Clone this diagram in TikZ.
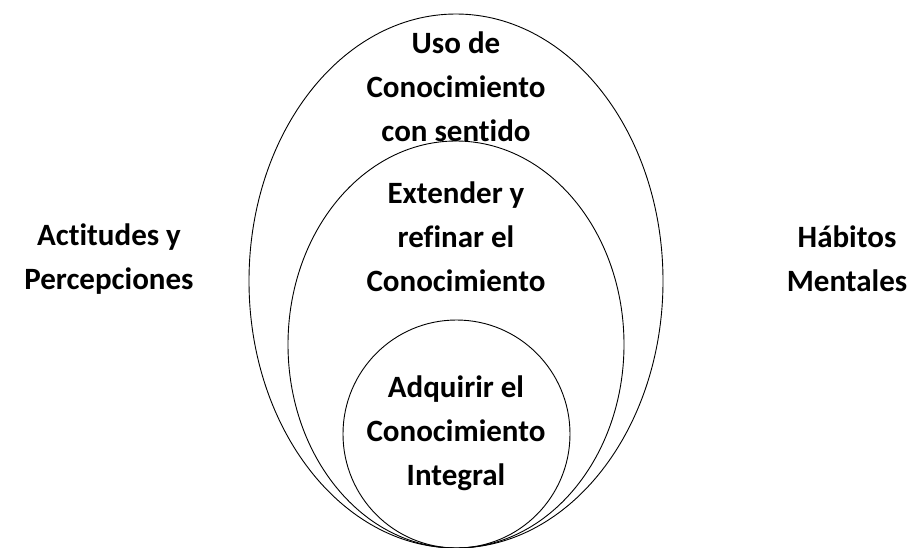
\documentclass[tikz,border=0pt]{standalone}
\usepackage{fontspec}
\setmainfont{Carlito}[Ligatures=NoCommon]
\begin{document}
\begin{tikzpicture}[x=1pt,y=-1pt,
  label/.style={align=center, font=\fontsize{31}{44}\selectfont\bfseries, inner sep=0pt},
  ring/.style={draw, line width=0.9pt}]
% Set the page size
\useasboundingbox (0,0) rectangle (914,547);

% Draw the three nested ellipses, all touching at the bottom
\draw[ring] (456,281) ellipse (207 and 267);
\draw[ring] (456,344.5) ellipse (168 and 203.5);
\draw[ring] (456.5,434) ellipse (113.5 and 114);

% Insert the texts
\node[label] (uso) at (456,87) {Uso de\\Conocimiento\\con sentido};
\node[label] (extender) at (456,237) {Extender y\\refinar el\\Conocimiento};
\node[label] (adquirir) at (456,433) {Adquirir el\\Conocimiento\\Integral};
\node[label] (actitudes) at (109,259) {Actitudes y\\Percepciones};
\node[label] (habitos) at (847,259) {Hábitos\\Mentales};
\end{tikzpicture}
\end{document}
